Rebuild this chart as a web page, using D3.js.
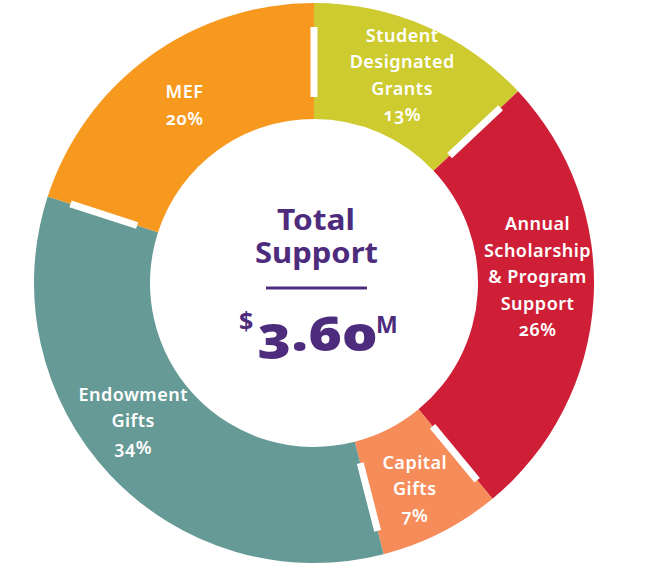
<!DOCTYPE html>
<html><head><meta charset="utf-8">
<script src="https://cdn.jsdelivr.net/npm/d3@7"></script>
<style>
html,body{margin:0;padding:0;background:#fff;}
svg{display:block;}
text{font-family:"Noto Sans",sans-serif;font-variant-numeric:oldstyle-nums;}
</style></head>
<body>
<svg id="chart" width="650" height="578"></svg>
<script>
const categories = ["Student Designated Grants","Annual Scholarship & Program Support","Capital Gifts","Endowment Gifts","MEF"];
const labelLines = [["Student","Designated","Grants"],["Annual","Scholarship","& Program","Support"],["Capital","Gifts"],["Endowment","Gifts"],["MEF"]];
const percents = [13, 26, 7, 34, 20];
const colors = ["#CDCB2F","#CF1F37","#F58C5A","#669A96","#F7991E"];
const totalLabel = ["Total","Support"];
const totalValue = "3.60";
const currency = "$";
const unit = "M";

const W = 650, H = 578, cx = 314, cy = 283, rOuter = 280, rInner = 164;
const labelOffsets = [[0,-4],[2,-20],[0,8],[-19,-14],[1,2]];

const svg = d3.select("#chart");
const g = svg.append("g").attr("transform", `translate(${cx},${cy})`);

const pie = d3.pie().sort(null).value(d => d);
const arcs = pie(percents);
const arc = d3.arc().innerRadius(rInner).outerRadius(rOuter);

g.selectAll("path.slice").data(arcs).join("path")
  .attr("class","slice")
  .attr("d", arc)
  .attr("fill", (d,i) => colors[i]);

// white separators
g.selectAll("line.sep").data(arcs).join("line")
  .attr("class","sep")
  .each(function(d){
    const a = d.startAngle - Math.PI/2;
    d3.select(this)
      .attr("x1", Math.cos(a)*186).attr("y1", Math.sin(a)*186)
      .attr("x2", Math.cos(a)*256).attr("y2", Math.sin(a)*256);
  })
  .attr("stroke","#fff").attr("stroke-width",7);

// labels
const lab = d3.arc().innerRadius(222).outerRadius(222);
const lh = 26.5;
arcs.forEach((d,i) => {
  const [x,y] = lab.centroid(d);
  const lines = labelLines[i].concat([percents[i] + "%"]);
  const x0 = x + labelOffsets[i][0];
  const y0 = y + labelOffsets[i][1] - (lines.length-1)*lh/2;
  const t = g.append("text")
    .attr("text-anchor","middle")
    .attr("fill","#fff")
    .attr("font-size",18)
    .attr("letter-spacing",0.5)
    .attr("font-weight",600);
  lines.forEach((l,k) => {
    t.append("tspan").attr("x", x0).attr("y", y0 + k*lh).attr("dy","0.35em").text(l);
  });
});

// center
const purple = "#4E2C7D";
g.append("text").attr("x",-37).attr("y",-53).attr("fill",purple)
  .attr("font-size",29).attr("font-weight",700)
  .attr("textLength",78).attr("lengthAdjust","spacingAndGlyphs").text(totalLabel[0]);
g.append("text").attr("x",-59).attr("y",-20).attr("fill",purple)
  .attr("font-size",29).attr("font-weight",700)
  .attr("textLength",123).attr("lengthAdjust","spacingAndGlyphs").text(totalLabel[1]);
g.append("line").attr("x1",-48).attr("x2",53).attr("y1",5).attr("y2",5)
  .attr("stroke",purple).attr("stroke-width",3);
g.append("text").attr("x",-75).attr("y",47).attr("fill",purple)
  .attr("font-size",25).attr("font-weight",700).text(currency);
g.append("text").attr("x",-57).attr("y",68).attr("fill",purple)
  .attr("font-size",48).attr("font-weight",900)
  .attr("textLength",120).attr("lengthAdjust","spacingAndGlyphs").text(totalValue);
g.append("text").attr("x",62).attr("y",50).attr("fill",purple)
  .attr("font-size",23).attr("font-weight",700).text(unit);
</script>
</body></html>
